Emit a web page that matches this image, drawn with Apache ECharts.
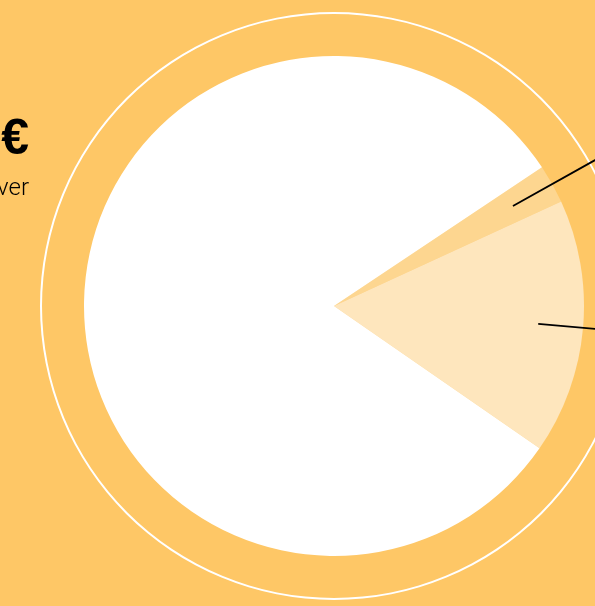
<!DOCTYPE html>
<html>
<head>
<meta charset="utf-8">
<script src="https://cdn.jsdelivr.net/npm/echarts@6/dist/echarts.min.js"></script>
<style>
  html, body { margin: 0; padding: 0; background: #FEC766; }
  #grafico { width: 595px; height: 606px; }
</style>
</head>
<body>
<div id="grafico"></div>
<script>
const categorias = ["Autres", "Charges", "Bénéfice"];
const valores = [2.5, 16.5, 81];
const colores = ["#FDD690", "#FEE6BD", "#FFFFFF"];
const totalTexto = "12 480 €";
const subtitulo = "Total turnover";

const contenedor = document.getElementById("grafico");
const miGrafico = echarts.init(contenedor, null, { renderer: "canvas" });

const datos = categorias.map((nombre, i) => ({
    name: nombre,
    value: valores[i],
    itemStyle: { color: colores[i] }
}));

const opciones = {
    backgroundColor: "#FEC766",
    animation: false,
    title: {
        left: 24,
        top: 110,
        textAlign: "right",
        text: totalTexto,
        subtext: subtitulo,
        itemGap: 12,
        textStyle: {
            fontFamily: "Liberation Sans",
            fontWeight: "bold",
            fontSize: 50,
            color: "#000"
        },
        subtextStyle: {
            fontFamily: "Roboto",
            fontWeight: 300,
            fontSize: 24,
            color: "#000"
        }
    },
    series: [
        {
            // anneau blanc extérieur
            type: "pie",
            silent: true,
            center: [334, 306],
            radius: [292, 294],
            label: { show: false },
            labelLine: { show: false },
            itemStyle: { color: "#FFFFFF" },
            data: [{ name: "anneau", value: 1 }]
        },
        {
            type: "pie",
            silent: true,
            z: 2,
            center: [334, 306],
            radius: 250,
            startAngle: 33.7,
            label: { show: false },
            labelLine: { show: false },
            data: datos
        },
        {
            // série invisible pour les lignes d'étiquettes
            type: "pie",
            silent: true,
            z: 5,
            center: [334, 306],
            radius: 205,
            startAngle: 33.7,
            itemStyle: { color: "rgba(0,0,0,0)" },
            label: {
                show: true,
                position: "outside",
                fontFamily: "Liberation Sans",
                fontSize: 16,
                color: "#000"
            },
            labelLine: {
                show: true,
                length: 160,
                length2: 30,
                lineStyle: { color: "#000", width: 1.8, opacity: 1 }
            },
            data: categorias.slice(0, 2).map((nombre, i) => ({ name: nombre, value: valores[i] }))
                .concat([{ name: "", value: valores[2], label: { show: false }, labelLine: { show: false } }])
        }
    ]
};

miGrafico.setOption(opciones);
</script>
</body>
</html>
